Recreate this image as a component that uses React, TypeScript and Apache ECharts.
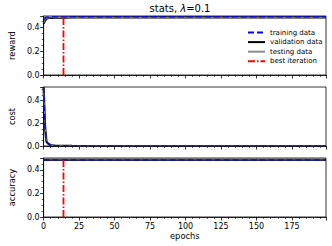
import React, { useEffect, useRef } from "react";
import * as echarts from "echarts";

const epochs = [0, 1, 2, 3, 4, 5, 6, 8, 10, 15, 20, 30, 50, 75, 100, 125, 150, 175, 199];

const rewardTrain = [0.468, 0.481, 0.485, 0.487, 0.487, 0.488, 0.488, 0.488, 0.488, 0.488, 0.488, 0.488, 0.488, 0.488, 0.488, 0.488, 0.488, 0.488, 0.488];
const rewardVal = [0.43, 0.458, 0.471, 0.476, 0.478, 0.479, 0.48, 0.481, 0.482, 0.482, 0.483, 0.483, 0.483, 0.483, 0.483, 0.483, 0.483, 0.483, 0.483];
const rewardTest = [0.435, 0.46, 0.472, 0.477, 0.479, 0.48, 0.481, 0.482, 0.482, 0.483, 0.483, 0.483, 0.483, 0.483, 0.483, 0.483, 0.483, 0.483, 0.483];

const costTrain = [0.52, 0.165, 0.04, 0.025, 0.015, 0.009, 0.005, 0.003, 0.002, 0.001, 0.001, 0, 0, 0, 0, 0, 0, 0, 0];
const costVal = [0.52, 0.17, 0.038, 0.024, 0.014, 0.008, 0.005, 0.003, 0.002, 0.001, 0.0005, 0, 0, 0, 0, 0, 0, 0, 0];
const costTest = [0.52, 0.168, 0.039, 0.024, 0.014, 0.008, 0.005, 0.003, 0.002, 0.001, 0.0005, 0, 0, 0, 0, 0, 0, 0, 0];

const accTrain = [0.484, 0.484, 0.484, 0.484, 0.484, 0.484, 0.484, 0.484, 0.484, 0.484, 0.484, 0.484, 0.484, 0.484, 0.484, 0.484, 0.484, 0.484, 0.484];
const accVal = [0.484, 0.484, 0.484, 0.484, 0.484, 0.484, 0.484, 0.484, 0.484, 0.484, 0.484, 0.484, 0.484, 0.484, 0.484, 0.484, 0.484, 0.484, 0.484];
const accTest = [0.484, 0.484, 0.484, 0.484, 0.484, 0.484, 0.484, 0.484, 0.484, 0.484, 0.484, 0.484, 0.484, 0.484, 0.484, 0.484, 0.484, 0.484, 0.484];

const bestIteration = 14;
const panelNames = ["reward", "cost", "accuracy"];
const panelMax = [0.495, 0.52, 0.5];
const seriesNames = ["training data", "validation data", "testing data", "best iteration"];

const FONT = "DejaVu Sans";
const NOFILL = "rgba(0,0,0,0)";

export default function App() {
  const ref = useRef<HTMLDivElement>(null);
  useEffect(() => {
    if (!ref.current) return;
    const chart = echarts.init(ref.current, null, { renderer: "svg" });
    const tops = [16, 87, 158];
    const grids = tops.map((t) => ({
      left: 34,
      top: t,
      width: 292,
      height: 59,
      show: true,
      borderColor: "#000",
      borderWidth: 0.8,
      backgroundColor: "transparent",
    }));
    const xAxes = [0, 1, 2].map((i) => ({
      type: "value",
      gridIndex: i,
      min: 0,
      max: 199,
      interval: 25,
      splitLine: { show: false },
      axisLine: { lineStyle: { color: "#000", width: 0.8 } },
      axisTick: { show: true, inside: false, length: 3.5, lineStyle: { color: "#000", width: 0.8 } },
      minorTick: { show: true, splitNumber: 5, length: 2, lineStyle: { color: "#000", width: 0.6 } },
      axisLabel: {
        show: i === 2,
        margin: 5,
        fontSize: 8,
        fontFamily: FONT,
        color: "#000",
        showMaxLabel: false,
      },
      name: i === 2 ? "epochs" : "",
      nameLocation: "middle",
      nameGap: 15,
      nameTextStyle: { fontSize: 8.3, fontFamily: FONT, color: "#000" },
    }));
    const yAxes = [0, 1, 2].map((i) => ({
      type: "value",
      gridIndex: i,
      min: 0,
      max: panelMax[i],
      interval: 0.2,
      splitLine: { show: false },
      axisLine: { lineStyle: { color: "#000", width: 0.8 } },
      axisTick: { show: true, inside: false, length: 3.5, lineStyle: { color: "#000", width: 0.8 } },
      minorTick: { show: true, splitNumber: 4, length: 2, lineStyle: { color: "#000", width: 0.6 } },
      axisLabel: {
        margin: 4,
        fontSize: 8,
        fontFamily: FONT,
        color: "#000",
        showMaxLabel: false,
        formatter: (v: number) => v.toFixed(1),
      },
      name: panelNames[i],
      nameLocation: "middle",
      nameGap: 23,
      nameTextStyle: { fontSize: 8.3, fontFamily: FONT, color: "#000" },
    }));

    const mk = (arr: number[]) => epochs.map((e, k) => [e, arr[k]]);
    const panelData = [
      [rewardTrain, rewardVal, rewardTest],
      [costTrain, costVal, costTest],
      [accTrain, accVal, accTest],
    ];
    const series: any[] = [];
    panelData.forEach((sets, i) => {
      series.push({
        type: "line",
        name: seriesNames[1],
        xAxisIndex: i,
        yAxisIndex: i,
        data: mk(sets[1]),
        symbol: "circle",
        symbolSize: 0,
        showSymbol: false,
        z: 2,
        lineStyle: { color: "#000", width: 2.2, type: "solid" },
        itemStyle: { color: NOFILL, borderWidth: 0 },
      });
      series.push({
        type: "line",
        name: seriesNames[2],
        xAxisIndex: i,
        yAxisIndex: i,
        data: mk(sets[2]),
        symbol: "circle",
        symbolSize: 0,
        showSymbol: false,
        z: 3,
        lineStyle: { color: "#8c8c8c", width: 0.9, type: "solid" },
        itemStyle: { color: NOFILL, borderWidth: 0 },
      });
      series.push({
        type: "line",
        name: seriesNames[0],
        xAxisIndex: i,
        yAxisIndex: i,
        data: mk(sets[0]),
        symbol: "circle",
        symbolSize: 0,
        showSymbol: false,
        z: 4,
        lineStyle: { color: "#0000ff", width: 1.2, type: [6, 3] },
        itemStyle: { color: NOFILL, borderWidth: 0 },
      });
    });
    [0, 2].forEach((i) => {
      series.push({
        type: "line",
        name: seriesNames[3],
        xAxisIndex: i,
        yAxisIndex: i,
        data: [
          [bestIteration, 0],
          [bestIteration, panelMax[i]],
        ],
        symbol: "circle",
        symbolSize: 0,
        showSymbol: false,
        z: 5,
        lineStyle: { color: "#ff0000", width: 1.8, type: [7, 2, 1.5, 2] },
        itemStyle: { color: NOFILL, borderWidth: 0 },
      });
    });

    chart.setOption({
      animation: false,
      backgroundColor: "#fff",
      grid: grids,
      xAxis: xAxes,
      yAxis: yAxes,
      legend: {
        data: seriesNames,
        orient: "vertical",
        left: 247,
        top: 29,
        padding: 0,
        itemWidth: 17,
        itemHeight: 8,
        itemGap: 2.6,
        textStyle: { fontSize: 7, fontFamily: FONT, color: "#000" },
        selectedMode: false,
      },
      graphic: [
        {
          type: "text",
          x: 180,
          y: 8,
          style: {
            text: "{a|stats, }{b|λ}{a|=0.1}",
            textAlign: "center",
            textVerticalAlign: "middle",
            rich: {
              a: { fontSize: 10, fontFamily: FONT, fill: "#000" },
              b: { fontSize: 10, fontFamily: FONT, fontStyle: "italic", fill: "#000" },
            },
          },
        },
      ],
      series,
    });
    return () => chart.dispose();
  }, []);
  return <div ref={ref} style={{ width: 332, height: 246, position: "absolute", left: 0, top: 0 }} />;
}
